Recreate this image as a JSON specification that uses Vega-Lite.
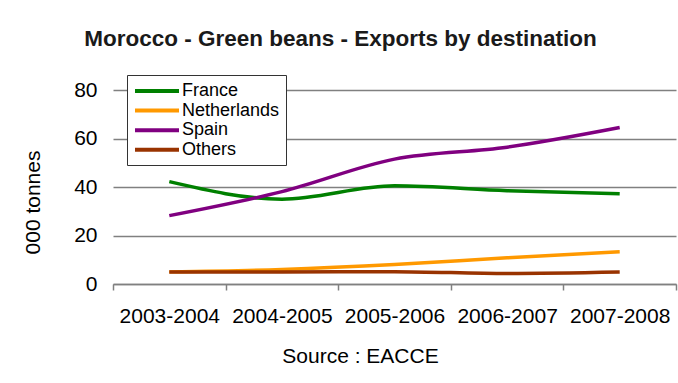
{
  "$schema": "https://vega.github.io/schema/vega-lite/v6.json",
  "width": 563,
  "height": 194,
  "autosize": {"type": "none"},
  "padding": {"left": 113, "top": 90, "right": 2, "bottom": 99},
  "background": "white",
  "title": {
    "text": "Morocco - Green beans - Exports by destination",
    "fontSize": 22.5,
    "fontWeight": "bold",
    "font": "Liberation Sans",
    "color": "#1a1a1a",
    "anchor": "middle",
    "dx": -54,
    "baseline": "alphabetic",
    "offset": 6
  },
  "data": {
    "values": [
      {"season": "2003-2004", "destination": "France", "value": 42.2},
      {"season": "2004-2005", "destination": "France", "value": 35.0},
      {"season": "2005-2006", "destination": "France", "value": 40.5},
      {"season": "2006-2007", "destination": "France", "value": 38.5},
      {"season": "2007-2008", "destination": "France", "value": 37.2},
      {"season": "2003-2004", "destination": "Netherlands", "value": 5.0},
      {"season": "2004-2005", "destination": "Netherlands", "value": 6.0},
      {"season": "2005-2006", "destination": "Netherlands", "value": 8.0},
      {"season": "2006-2007", "destination": "Netherlands", "value": 10.8},
      {"season": "2007-2008", "destination": "Netherlands", "value": 13.3},
      {"season": "2003-2004", "destination": "Spain", "value": 28.2},
      {"season": "2004-2005", "destination": "Spain", "value": 38.1},
      {"season": "2005-2006", "destination": "Spain", "value": 51.5},
      {"season": "2006-2007", "destination": "Spain", "value": 56.4},
      {"season": "2007-2008", "destination": "Spain", "value": 64.5},
      {"season": "2003-2004", "destination": "Others", "value": 5.0},
      {"season": "2004-2005", "destination": "Others", "value": 5.0},
      {"season": "2005-2006", "destination": "Others", "value": 5.1},
      {"season": "2006-2007", "destination": "Others", "value": 4.3},
      {"season": "2007-2008", "destination": "Others", "value": 4.9}
    ]
  },
  "mark": {"type": "line", "interpolate": "monotone", "strokeWidth": 3.5},
  "encoding": {
    "x": {
      "field": "season",
      "type": "ordinal",
      "bandPosition": 0.5,
      "scale": {"type": "band", "paddingInner": 0, "paddingOuter": 0},
      "axis": {
        "title": "Source : EACCE",
        "labelAngle": 0,
        "tickBand": "extent",
        "tickSize": 6,
        "tickColor": "#808080",
        "tickWidth": 1.5,
        "domainColor": "#808080",
        "domainWidth": 1.5,
        "grid": false,
        "labelFont": "Liberation Sans",
        "labelFontSize": 21,
        "labelColor": "black",
        "labelBaseline": "alphabetic",
        "labelPadding": 32,
        "labelOverlap": false,
        "titleFont": "Liberation Sans",
        "titleFontSize": 21,
        "titleFontWeight": "normal",
        "titleColor": "black",
        "titleX": 247,
        "titleY": 78,
        "titleBaseline": "alphabetic",
        "titleAlign": "center"
      }
    },
    "y": {
      "field": "value",
      "type": "quantitative",
      "scale": {"domain": [0, 80]},
      "axis": {
        "title": "000 tonnes",
        "values": [0, 20, 40, 60, 80],
        "domain": false,
        "ticks": false,
        "labelPadding": 16,
        "labelFont": "Liberation Sans",
        "labelFontSize": 21,
        "labelColor": "black",
        "gridColor": "#808080",
        "gridWidth": 1.5,
        "titleFont": "Liberation Sans",
        "titleFontSize": 21,
        "titleFontWeight": "normal",
        "titleColor": "black",
        "titleAngle": -90,
        "titleX": -74,
        "titleY": 112,
        "titleBaseline": "alphabetic",
        "titleAlign": "center"
      }
    },
    "color": {
      "field": "destination",
      "type": "nominal",
      "scale": {
        "domain": ["France", "Netherlands", "Spain", "Others"],
        "range": ["#008000", "#FF9900", "#800080", "#993300"]
      },
      "legend": {
        "orient": "none",
        "legendX": 14,
        "legendY": -15,
        "title": null,
        "symbolType": "M-2.75,0H2.75",
        "symbolSize": 256,
        "symbolStrokeWidth": 4,
        "symbolOffset": 14,
        "labelOffset": 15,
        "labelFont": "Liberation Sans",
        "labelFontSize": 18,
        "labelColor": "black",
        "padding": 6,
        "rowPadding": 0.6,
        "strokeColor": "#333333",
        "fillColor": "white"
      }
    }
  },
  "config": {"view": {"stroke": null}, "font": "Liberation Sans"}
}
